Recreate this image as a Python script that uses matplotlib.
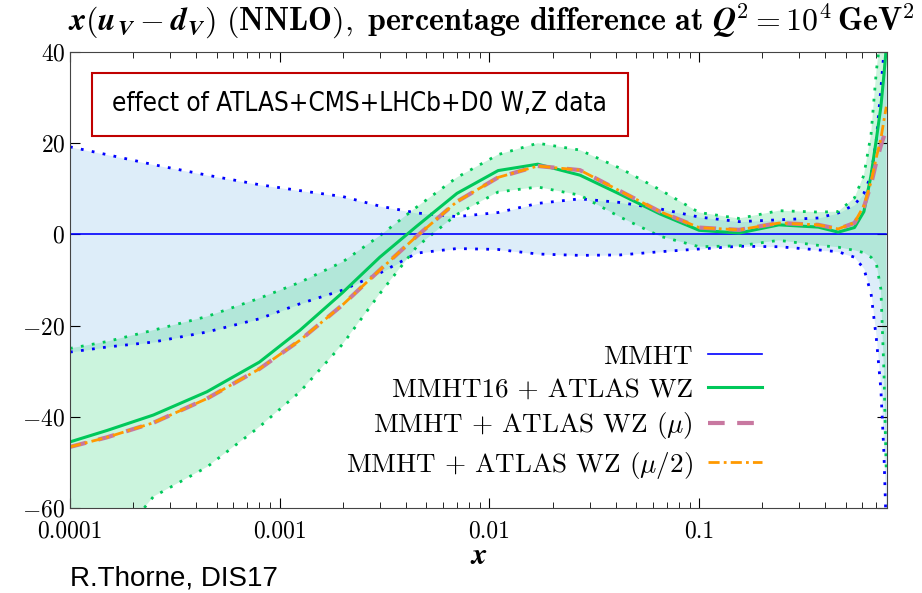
import numpy as np
import matplotlib
matplotlib.use("Agg")
import matplotlib.pyplot as plt
from matplotlib.patches import Rectangle

plt.rcParams['font.family'] = 'serif'
plt.rcParams['font.serif'] = ['cmr10']
plt.rcParams['mathtext.fontset'] = 'cm'
plt.rcParams['axes.formatter.use_mathtext'] = True

# x grid (log axis)
x = [1e-4, 1.5e-4, 2.5e-4, 4.5e-4, 8e-4, 1.25e-3, 2e-3, 3e-3, 4.5e-3, 7e-3,
     0.011, 0.017, 0.027, 0.042, 0.065, 0.1, 0.155, 0.24, 0.37, 0.46,
     0.55, 0.61, 0.66, 0.70, 0.735, 0.76, 0.78]

# MMHT (reference, zero) and its uncertainty band
mmht = [0.0] * len(x)
mmht_up = [19.2, 17.5, 15.3, 13.0, 10.9, 9.6, 8.3, 6.2, 4.7, 3.9,
           4.8, 6.8, 7.8, 7.0, 5.6, 3.8, 2.8, 3.2, 3.6, 4.7,
           6.5, 9.0, 13.0, 21.0, 32.0, 40.0, 48.0]
mmht_lo = [-25.8, -24.7, -23.6, -21.4, -18.5, -15.2, -12.2, -8.5, -4.1, -3.1,
           -3.3, -4.3, -4.6, -4.5, -3.8, -3.2, -2.6, -2.7, -3.4, -3.8,
           -5.0, -7.5, -13.0, -23.0, -34.0, -48.0, -65.0]

# MMHT16 + ATLAS WZ and its band
wz = [-45.5, -43.0, -39.6, -34.5, -28.0, -21.0, -12.7, -5.0, 1.8, 9.0,
      14.0, 15.4, 13.0, 8.8, 4.5, 0.9, 0.3, 2.1, 1.6, 0.5,
      1.5, 5.0, 13.0, 21.0, 28.0, 35.0, 41.0]
wz_up = [-25.0, -23.5, -21.0, -18.0, -14.0, -10.5, -6.0, -0.3, 6.0, 12.5,
         17.5, 20.0, 18.5, 14.5, 9.8, 4.8, 3.5, 5.2, 4.9, 5.0,
         8.0, 13.0, 22.0, 36.0, 44.0, 50.0, 55.0]
wz_lo = [-80.0, -70.0, -57.5, -51.0, -42.2, -34.5, -24.0, -13.0, -2.7, 4.4,
         9.3, 10.4, 8.6, 3.8, -0.4, -2.7, -2.5, -1.3, -2.4, -2.8,
         -3.5, -4.0, -5.0, -6.5, -12.0, -30.0, -52.0]

# scale variations
wz_mu = [-46.6, -44.5, -41.3, -36.0, -29.5, -23.2, -15.4, -7.8, -0.4, 7.2,
         12.5, 15.0, 14.1, 9.5, 5.0, 1.5, 1.0, 2.5, 2.1, 1.2,
         2.5, 6.0, 11.0, 16.0, 19.5, 21.5, 23.0]
wz_mu2 = [-46.6, -44.5, -41.3, -36.0, -29.5, -23.2, -15.4, -7.8, -0.4, 7.2,
          12.5, 15.0, 14.1, 9.5, 5.0, 1.5, 1.0, 2.5, 2.1, 1.2,
          2.6, 6.3, 11.5, 17.0, 21.0, 25.0, 28.0]

labels = ['MMHT', 'MMHT16 + ATLAS WZ', r'MMHT + ATLAS WZ ($\mu$)',
          r'MMHT + ATLAS WZ ($\mu/2$)']

blue = '#0000ff'
green = '#00c85a'
pink = '#c878a0'
orange = '#ff9900'

fig = plt.figure(figsize=(9.22, 5.93), dpi=100)
ax = fig.add_axes([0.0759, 0.1433, 0.886, 0.769])

# bands
ax.fill_between(x, mmht_lo, mmht_up, color='#7ab8eb', alpha=0.25, lw=0)
ax.fill_between(x, wz_lo, wz_up, color='#33d77b', alpha=0.25, lw=0)
ax.plot(x, mmht_up, color=blue, lw=2, ls=(0, (1, 3)))
ax.plot(x, mmht_lo, color=blue, lw=2, ls=(0, (1, 3)))
ax.plot(x, wz_up, color=green, lw=2, ls=(0, (1, 3)))
ax.plot(x, wz_lo, color=green, lw=2, ls=(0, (1, 3)))

# central lines
ax.plot(x, mmht, color=blue, lw=1.2, label=labels[0])
ax.plot(x, wz, color=green, lw=2.2, label=labels[1])
ax.plot(x, wz_mu, color=pink, lw=3, ls=(0, (4, 3)), label=labels[2])
ax.plot(x, wz_mu2, color=orange, lw=2, ls=(0, (4, 1.5, 1, 1.5)), label=labels[3])

ax.set_xscale('log')
ax.set_xlim(1e-4, 0.785)
ax.set_ylim(-60, 40)
ax.set_xticks([1e-4, 1e-3, 1e-2, 0.1])
ax.set_xticklabels(['0.0001', '0.001', '0.01', '0.1'])
yt = [-60, -40, -20, 0, 20, 40]
ax.set_yticks(yt)
ax.set_yticklabels(['$%d$' % v for v in yt])
ax.tick_params(which='both', direction='in', top=True, right=True, labelsize=17)
ax.tick_params(axis='x', pad=9)
ax.tick_params(which='major', length=7)
ax.tick_params(which='minor', length=4)
for s in ax.spines.values():
    s.set_color('#444444')

ax.set_xlabel(r'$\boldsymbol{x}$', fontsize=22, labelpad=0)
title = (r'$\boldsymbol{x}\mathbf{(}\boldsymbol{u}_\boldsymbol{V}-\boldsymbol{d}_\boldsymbol{V}\mathbf{)}'
         r'\ \mathbf{(NNLO),\ percentage\ difference\ at}\ '
         r'\boldsymbol{Q}^\mathbf{2}\mathbf{=10^4}\,\mathbf{GeV^2}$')
fig.text(0.074, 1 - 30 / 593, title, fontsize=23, ha='left', va='baseline')

leg = ax.legend(loc='lower right', bbox_to_anchor=(0.847, 0.06), frameon=False,
                markerfirst=False, fontsize=19.5, handlelength=2.0,
                labelspacing=0.32, handletextpad=0.55, borderpad=0, borderaxespad=0)

# annotation box
ax.add_patch(Rectangle((0.027, 0.816), 0.656, 0.138, transform=ax.transAxes,
                       fill=True, facecolor='white', edgecolor='#c00000', lw=1.5, zorder=5))
ax.text(0.052, 0.885, 'effect of ATLAS+CMS+LHCb+D0 W,Z data', transform=ax.transAxes,
        ha='left', va='center', fontsize=18.7, family='DejaVu Sans',
        fontstretch='condensed', zorder=6)

fig.text(0.076, 0.012, 'R.Thorne, DIS17', family='Liberation Sans', fontsize=20)

fig.savefig('out.png', dpi=100)
